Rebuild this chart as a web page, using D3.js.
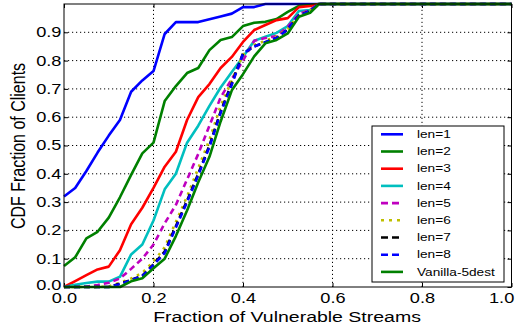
<!DOCTYPE html>
<html>
<head>
<meta charset="utf-8">
<script src="https://cdn.jsdelivr.net/npm/d3@7"></script>
<style>
  body { margin: 0; background: #fff; }
  text { font-family: "Liberation Sans", Arial, Helvetica, sans-serif; fill: #000; }
</style>
</head>
<body>
<svg id="chart" width="525" height="332"></svg>
<script>
// Fraction of vulnerable streams (shared x positions of each CDF)
const xs = [0, .025, .05, .075, .1, .125, .15, .175, .2, .225, .25, .275, .3, .325, .35, .375, .4, .425, .45, .475, .5, .525, .55, .57, 1.0];

// CDF values for each path length
const len1 = [0.32, 0.35, 0.41, 0.475, 0.535, 0.59, 0.69, 0.73, 0.763, 0.894, 0.936, 0.936, 0.936, 0.946, 0.956, 0.966, 0.989, 0.989, 1, 1, 1, 1, 1, 1, 1];
const len2 = [0.074, 0.105, 0.172, 0.195, 0.245, 0.317, 0.396, 0.472, 0.51, 0.657, 0.71, 0.756, 0.774, 0.837, 0.873, 0.883, 0.922, 0.934, 0.937, 0.947, 0.972, 0.993, 0.996, 1, 1];
const len3 = [0, 0.021, 0.042, 0.062, 0.072, 0.13, 0.222, 0.28, 0.35, 0.425, 0.478, 0.59, 0.671, 0.717, 0.774, 0.813, 0.866, 0.908, 0.926, 0.943, 0.95, 0.989, 0.993, 1, 1];
const len4 = [0, 0.008, 0.014, 0.019, 0.019, 0.036, 0.115, 0.15, 0.235, 0.345, 0.4, 0.51, 0.57, 0.64, 0.705, 0.76, 0.813, 0.87, 0.884, 0.898, 0.922, 0.975, 0.979, 1, 1];
const len5 = [0, 0, 0.002, 0.007, 0.015, 0.03, 0.064, 0.1, 0.15, 0.225, 0.29, 0.38, 0.47, 0.57, 0.67, 0.735, 0.80, 0.87, 0.88, 0.887, 0.92, 0.965, 0.979, 1, 1];
const len6 = [0, 0, 0, 0, 0.002, 0.015, 0.03, 0.05, 0.09, 0.14, 0.23, 0.32, 0.42, 0.52, 0.64, 0.73, 0.82, 0.855, 0.87, 0.885, 0.912, 0.962, 0.976, 1, 1];
const len7 = [0, 0, 0, 0, 0, 0.012, 0.025, 0.04, 0.08, 0.125, 0.215, 0.305, 0.4, 0.5, 0.62, 0.72, 0.825, 0.85, 0.865, 0.88, 0.91, 0.96, 0.975, 1, 1];
const len8 = [0, 0, 0, 0, 0, 0.01, 0.024, 0.038, 0.078, 0.12, 0.21, 0.3, 0.395, 0.495, 0.615, 0.715, 0.825, 0.85, 0.865, 0.88, 0.91, 0.96, 0.975, 1, 1];
const vanilla = [0, 0, 0, 0, 0, 0, 0.02, 0.031, 0.066, 0.1, 0.18, 0.27, 0.37, 0.46, 0.585, 0.695, 0.752, 0.815, 0.861, 0.873, 0.896, 0.955, 0.969, 1, 1];

const seriesNames = ["len=1", "len=2", "len=3", "len=4", "len=5", "len=6", "len=7", "len=8", "Vanilla-5dest"];
const seriesValues = [len1, len2, len3, len4, len5, len6, len7, len8, vanilla];

// Tick labels
const xTicks = [0, 0.2, 0.4, 0.6, 0.8, 1.0];
const yTicks = [0, 0.1, 0.2, 0.3, 0.4, 0.5, 0.6, 0.7, 0.8, 0.9];
const xLabel = "Fraction of Vulnerable Streams";
const yLabel = "CDF Fraction of Clients";

// Line styles per series
const colors = ["#0000ff", "#008000", "#ff0000", "#00bfbf", "#bf00bf", "#bfbf00", "#000000", "#0000ff", "#008000"];
const dashes = [null, null, null, null, "6,4", "2.5,5", "6,4", "6,4", null];

const STRETCH = 1.3; // text is drawn slightly wide
const svg = d3.select("#chart");

const x = d3.scaleLinear().domain([0, 1]).range([64, 511.5]);
const y = d3.scaleLinear().domain([0, 1]).range([287, 4]);

// Dotted grid
const grid = svg.append("g");
grid.selectAll("line.gx").data(xTicks.filter(d => d > 0 && d < 1)).join("line")
  .attr("x1", d => x(d)).attr("x2", d => x(d))
  .attr("y1", y(0)).attr("y2", y(1))
  .attr("stroke", "#000").attr("stroke-width", 1).attr("stroke-dasharray", "1.2,2.8");
grid.selectAll("line.gy").data(yTicks.filter(d => d > 0)).join("line")
  .attr("y1", d => y(d)).attr("y2", d => y(d))
  .attr("x1", x(0)).attr("x2", x(1))
  .attr("stroke", "#000").attr("stroke-width", 1).attr("stroke-dasharray", "1.2,2.8");

// Axes
const fontTick = 14;
const gx = svg.append("g").attr("transform", `translate(0,${y(0)})`)
  .call(d3.axisBottom(x).tickValues(xTicks).tickFormat(d3.format(".1f")).tickSizeInner(-4).tickSizeOuter(0).tickPadding(6));
const gy = svg.append("g").attr("transform", `translate(${x(0)},0)`)
  .call(d3.axisLeft(y).tickValues(yTicks).tickFormat(d3.format(".1f")).tickSizeInner(-4).tickSizeOuter(0).tickPadding(2));
svg.append("g").attr("transform", `translate(0,${y(1)})`)
  .call(d3.axisTop(x).tickValues(xTicks).tickFormat("").tickSizeInner(-4).tickSizeOuter(0));
svg.append("g").attr("transform", `translate(${x(1)},0)`)
  .call(d3.axisRight(y).tickValues(yTicks).tickFormat("").tickSizeInner(-4).tickSizeOuter(0));

svg.selectAll(".domain").remove();
svg.selectAll(".tick line").attr("stroke", "#000");
[gx, gy].forEach(g => g.selectAll("text")
  .attr("font-size", fontTick)
  .attr("fill", "#000")
  .attr("font-family", '"Liberation Sans", Arial, sans-serif')
  .attr("transform", `scale(${STRETCH},1)`));
gx.selectAll(".tick text").filter(d => d === 1).attr("dx", -8);
gy.selectAll(".tick text").filter(d => d === 0).attr("dy", "0.2em");

// Curves
const line = d3.line().x((d, i) => x(xs[i])).y(d => y(d));
svg.append("g").selectAll("path").data(seriesValues).join("path")
  .attr("d", d => line(d))
  .attr("fill", "none")
  .attr("stroke", (d, i) => colors[i])
  .attr("stroke-width", 2.6)
  .attr("stroke-linejoin", "round")
  .attr("stroke-dasharray", (d, i) => dashes[i]);

// Plot frame
svg.append("rect")
  .attr("x", x(0)).attr("y", y(1))
  .attr("width", x(1) - x(0)).attr("height", y(0) - y(1))
  .attr("fill", "none").attr("stroke", "#000").attr("stroke-width", 1);

// Axis titles
svg.append("g").attr("transform", `translate(287,322) scale(${STRETCH},1)`)
  .append("text").attr("text-anchor", "middle").attr("font-size", 15).text(xLabel);
svg.append("g").attr("transform", `translate(25,146) scale(${STRETCH},1) rotate(-90)`)
  .append("text").attr("text-anchor", "middle").attr("font-size", 16).text(yLabel);

// Legend
const lg = svg.append("g");
lg.append("rect").attr("x", 372).attr("y", 126).attr("width", 132).attr("height", 156)
  .attr("fill", "#fff").attr("stroke", "#000").attr("stroke-width", 1);
const rowY = i => 134.3 + i * 17.2;
const rows = lg.selectAll("g.row").data(seriesNames).join("g").attr("class", "row");
rows.append("line")
  .attr("x1", 381).attr("x2", 403)
  .attr("y1", (d, i) => rowY(i)).attr("y2", (d, i) => rowY(i))
  .attr("stroke", (d, i) => colors[i]).attr("stroke-width", 2.6)
  .attr("stroke-dasharray", (d, i) => dashes[i] === "6,4" ? "7,4" : (dashes[i] ? "3,5" : null));
rows.append("g").attr("transform", (d, i) => `translate(417,${rowY(i)}) scale(${STRETCH},1)`)
  .append("text").attr("dy", "0.36em").attr("font-size", 10.5).text(d => d);
</script>
</body>
</html>
